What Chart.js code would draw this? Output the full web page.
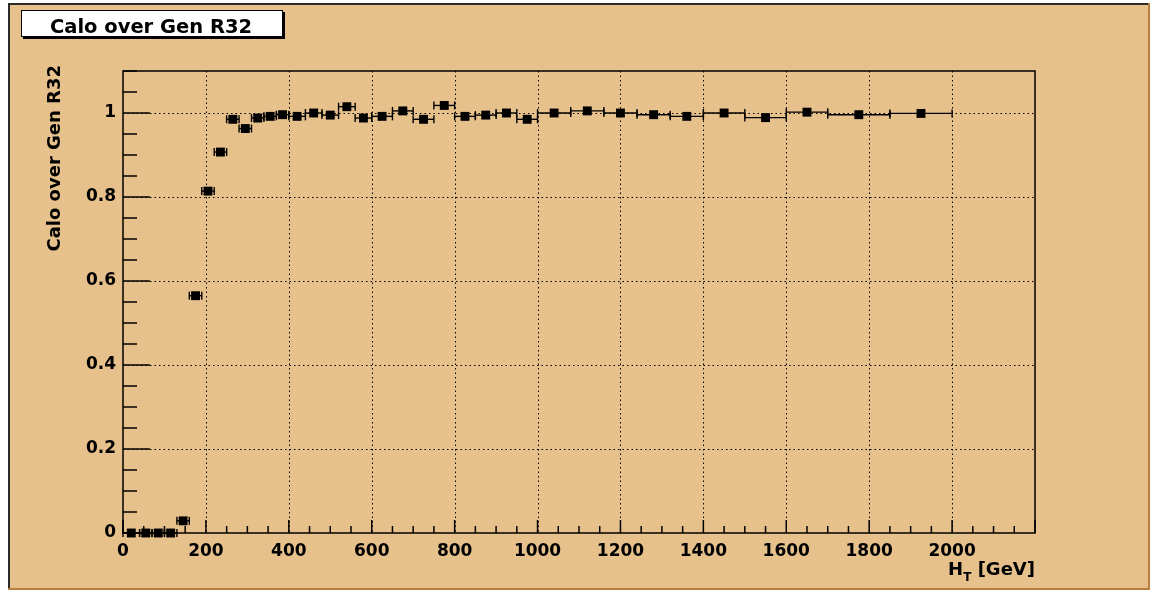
<!DOCTYPE html>
<html>
<head>
<meta charset="utf-8">
<script src="https://cdn.jsdelivr.net/npm/chart.js@4.4.1/dist/chart.umd.min.js"></script>
<style>
  html, body { margin: 0; padding: 0; background: #fff; }
  canvas { display: block; }
</style>
</head>
<body>
<canvas id="myChart" width="1153" height="592"></canvas>
<script>
// HT bins (GeV) and the Calo/Gen R32 ratio in each bin
const htLow  = [0, 40, 70, 100, 130, 160, 190, 220, 250, 280, 310, 340, 370, 400, 440, 480, 520, 560,
                600, 650, 700, 750, 800, 850, 900, 950, 1000, 1080, 1160, 1240, 1320, 1400, 1500, 1600, 1700, 1850];
const htHigh = [40, 70, 100, 130, 160, 190, 220, 250, 280, 310, 340, 370, 400, 440, 480, 520, 560, 600,
                650, 700, 750, 800, 850, 900, 950, 1000, 1080, 1160, 1240, 1320, 1400, 1500, 1600, 1700, 1850, 2000];
const ratio  = [0, 0, 0, 0, 0.029, 0.565, 0.814, 0.907, 0.985, 0.963, 0.988, 0.992, 0.996, 0.992, 1.0, 0.995, 1.015, 0.988,
                0.992, 1.005, 0.985, 1.018, 0.992, 0.995, 1.0, 0.985, 1.0, 1.005, 1.0, 0.996, 0.992, 1.0, 0.989, 1.002, 0.996, 0.999];

const xTicks = [0, 200, 400, 600, 800, 1000, 1200, 1400, 1600, 1800, 2000];
const yTicks = [0, 0.2, 0.4, 0.6, 0.8, 1];
const yTickLabels = ['0', '0.2', '0.4', '0.6', '0.8', '1'];

const TAN = '#e6c18c';
const FONT = '"DejaVu Sans", sans-serif';

const points = ratio.map((v, i) => ({ x: (htLow[i] + htHigh[i]) / 2, y: v }));

function line(ctx, x1, y1, x2, y2) {
    ctx.beginPath();
    ctx.moveTo(x1, y1);
    ctx.lineTo(x2, y2);
    ctx.stroke();
}

const rootStyle = {
    id: 'rootStyle',
    beforeDraw(chart) {
        const ctx = chart.ctx;
        ctx.save();
        ctx.fillStyle = '#fff';
        ctx.fillRect(0, 0, chart.width, chart.height);
        ctx.fillStyle = TAN;
        ctx.fillRect(8, 3, 1142, 587);
        // pad bevel
        ctx.fillStyle = '#2a2a2a';
        ctx.fillRect(8, 3, 2, 587);
        ctx.fillRect(8, 3, 1142, 2);
        ctx.fillStyle = '#b8803e';
        ctx.fillRect(1148, 3, 2, 587);
        ctx.fillRect(8, 588, 1142, 2);

        // title box with shadow
        ctx.fillStyle = '#000';
        ctx.fillRect(23, 12, 262, 27);
        ctx.fillStyle = '#fff';
        ctx.fillRect(21, 10, 262, 27);
        ctx.strokeStyle = '#000';
        ctx.lineWidth = 1;
        ctx.strokeRect(21.5, 10.5, 261, 26);
        ctx.fillStyle = '#000';
        ctx.font = 'bold 19.5px ' + FONT;
        ctx.textAlign = 'center';
        ctx.textBaseline = 'alphabetic';
        ctx.fillText('Calo over Gen R32', 151, 33);

        // y title
        ctx.save();
        ctx.translate(60, 65);
        ctx.rotate(-Math.PI / 2);
        ctx.font = 'bold 18px ' + FONT;
        ctx.textAlign = 'right';
        ctx.fillText('Calo over Gen R32', 0, 0);
        ctx.restore();

        // x title: H_T [GeV], right aligned to the frame
        const a = chart.chartArea;
        ctx.textAlign = 'left';
        ctx.font = 'bold 18px ' + FONT;
        const wH = ctx.measureText('H').width;
        const wRest = ctx.measureText(' [GeV]').width;
        ctx.font = 'bold 12px ' + FONT;
        const wT = ctx.measureText('T').width;
        let xs = a.right - (wH + wT + wRest);
        ctx.font = 'bold 18px ' + FONT;
        ctx.fillText('H', xs, 575);
        ctx.font = 'bold 12px ' + FONT;
        ctx.fillText('T', xs + wH, 581);
        ctx.font = 'bold 18px ' + FONT;
        ctx.fillText(' [GeV]', xs + wH + wT, 575);
        ctx.restore();
    },
    beforeDatasetsDraw(chart) {
        const { ctx, chartArea: a, scales: { x, y } } = chart;
        ctx.save();
        ctx.strokeStyle = '#000';

        // dotted grid
        ctx.lineWidth = 1;
        ctx.setLineDash([1.5, 3]);
        xTicks.forEach(v => {
            if (v === 0) return;
            const px = Math.round(x.getPixelForValue(v)) + 0.5;
            line(ctx, px, a.top, px, a.bottom);
        });
        yTicks.forEach(v => {
            if (v === 0) return;
            const py = Math.round(y.getPixelForValue(v)) + 0.5;
            line(ctx, a.left, py, a.right, py);
        });
        ctx.setLineDash([]);

        // tick marks
        ctx.lineWidth = 1.5;
        for (let v = 0; v <= 2200; v += 50) {
            const px = x.getPixelForValue(v);
            const len = v % 200 === 0 ? 13 : 7;
            line(ctx, px, a.bottom, px, a.bottom - len);
        }
        for (let k = 0; k <= 22; k++) {
            const v = k * 0.05;
            const py = y.getPixelForValue(v);
            const len = k % 4 === 0 ? 27 : 14;
            line(ctx, a.left, py, a.left + len, py);
        }

        // frame
        ctx.lineWidth = 1.5;
        ctx.strokeRect(a.left, a.top, a.right - a.left, a.bottom - a.top);

        // horizontal error bars (bin widths)
        ctx.lineWidth = 1.4;
        ratio.forEach((v, i) => {
            const x1 = x.getPixelForValue(htLow[i]);
            const x2 = x.getPixelForValue(htHigh[i]);
            const py = y.getPixelForValue(v);
            line(ctx, x1, py, x2, py);
            line(ctx, x1, py - 4, x1, py + 4);
            line(ctx, x2, py - 4, x2, py + 4);
        });
        ctx.restore();
    }
};

const ctx = document.getElementById('myChart').getContext('2d');
new Chart(ctx, {
    type: 'scatter',
    data: {
        datasets: [{
            label: 'Calo over Gen R32',
            data: points,
            pointStyle: 'rect',
            pointRadius: 6.3,
            pointBorderWidth: 0,
            backgroundColor: '#000',
            borderColor: '#000',
            clip: false
        }]
    },
    plugins: [rootStyle],
    options: {
        responsive: false,
        animation: false,
        layout: { padding: { left: 0, top: 71, right: 118, bottom: 0 } },
        plugins: {
            legend: { display: false },
            tooltip: { enabled: false }
        },
        scales: {
            x: {
                type: 'linear',
                min: 0,
                max: 2200,
                afterFit: s => { s.height = 59; },
                afterBuildTicks: s => { s.ticks = xTicks.map(v => ({ value: v })); },
                grid: { display: false, drawTicks: false },
                border: { display: false },
                ticks: {
                    color: '#000',
                    padding: 8,
                    maxRotation: 0,
                    autoSkip: false,
                    font: { family: FONT, size: 17, weight: 'bold' },
                    callback: v => String(v)
                }
            },
            y: {
                type: 'linear',
                min: 0,
                max: 1.1,
                afterFit: s => { s.width = 123; },
                afterBuildTicks: s => { s.ticks = yTicks.map(v => ({ value: v })); },
                grid: { display: false, drawTicks: false },
                border: { display: false },
                ticks: {
                    color: '#000',
                    padding: 7,
                    autoSkip: false,
                    font: { family: FONT, size: 17, weight: 'bold' },
                    callback: (v, i) => yTickLabels[i]
                }
            }
        }
    }
});
</script>
</body>
</html>
